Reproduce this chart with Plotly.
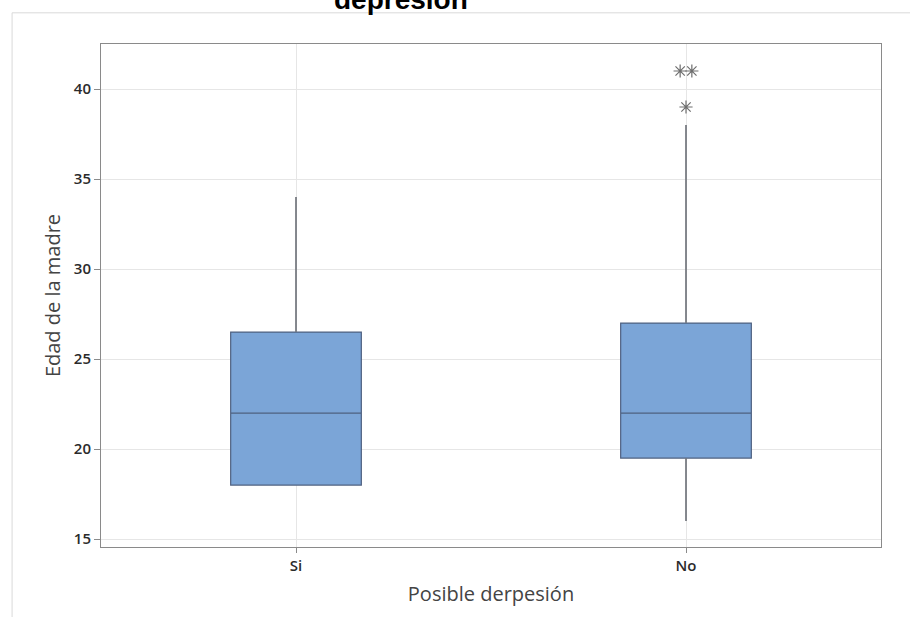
import plotly.graph_objects as go

# ---- data ----
categories = ["Si", "No"]
cat_pos = [0, 1]
q1 = [18.0, 19.5]
median = [22.0, 22.0]
q3 = [26.5, 27.0]
lower_whisker = [18.0, 16.0]
upper_whisker = [34.0, 38.0]

outlier_values = [41, 41, 39]
outlier_group = [1, 1, 1]
outlier_jitter = [-0.015, 0.015, 0.0]

y_ticks = [15, 20, 25, 30, 35, 40]

fig = go.Figure()
fig.add_trace(go.Box(
    x=cat_pos, q1=q1, median=median, q3=q3,
    lowerfence=lower_whisker, upperfence=upper_whisker,
    width=0.335, whiskerwidth=0, boxpoints=False,
    fillcolor="#7BA5D7",
    line=dict(color="#4F6180", width=1.2),
    showlegend=False, hoverinfo="skip",
))

# gray whiskers drawn over the box trace's own whiskers
wx, wy = [], []
for p, a, b, c, d in zip(cat_pos, lower_whisker, q1, q3, upper_whisker):
    if a < b:
        wx += [p, p, None]
        wy += [a, b, None]
    if d > c:
        wx += [p, p, None]
        wy += [c, d, None]
fig.add_trace(go.Scatter(x=wx, y=wy, mode="lines",
                         line=dict(color="#808080", width=1.4),
                         showlegend=False, hoverinfo="skip"))

fig.add_trace(go.Scatter(
    x=[g + j for g, j in zip(outlier_group, outlier_jitter)],
    y=outlier_values, mode="markers",
    marker=dict(symbol="asterisk-open", size=11, color="#6E6E6E",
                line=dict(color="#6E6E6E", width=1.2)),
    showlegend=False, hoverinfo="skip",
))

fig.update_layout(
    width=910, height=617,
    margin=dict(l=101, r=29, t=44, b=70),
    paper_bgcolor="white", plot_bgcolor="white",
    xaxis=dict(range=[-0.5, 1.5], tickvals=cat_pos, ticktext=categories,
               showgrid=True, gridcolor="#E6E6E6", gridwidth=1,
               showline=True, linecolor="#8A8A8A", linewidth=1, mirror=True,
               ticks="outside", ticklen=5, tickcolor="#8A8A8A",
               tickfont=dict(family="Open Sans, sans-serif", size=15, color="#2b2b2b", weight=600),
               title=dict(text="Posible derpesión", standoff=12,
                          font=dict(family="Open Sans, sans-serif", size=20, color="#444444")),
               zeroline=False),
    yaxis=dict(range=[14.56, 42.5], tickvals=y_ticks,
               showgrid=True, gridcolor="#E6E6E6", gridwidth=1,
               showline=True, linecolor="#8A8A8A", linewidth=1, mirror=True,
               ticks="outside", ticklen=6, tickcolor="#8A8A8A",
               tickfont=dict(family="Open Sans, sans-serif", size=15, color="#2b2b2b", weight=600),
               title=dict(text="Edad de la madre", standoff=7,
                          font=dict(family="Open Sans, sans-serif", size=20, color="#444444")),
               zeroline=False),
    annotations=[dict(text="<b>depresión</b>", xref="paper", yref="paper",
                      x=0.385, y=1.054, xanchor="center", yanchor="bottom",
                      showarrow=False,
                      font=dict(family="Liberation Sans, Arial, sans-serif", size=28, color="black"))],
    shapes=[
        dict(type="line", xref="paper", yref="paper", x0=-0.114, x1=1.04, y0=1.062, y1=1.062,
             line=dict(color="#D9D9D9", width=1)),
        dict(type="line", xref="paper", yref="paper", x0=-0.114, x1=-0.114, y0=1.062, y1=-0.2,
             line=dict(color="#D9D9D9", width=1)),
    ],
)
fig.write_html("out.html")
